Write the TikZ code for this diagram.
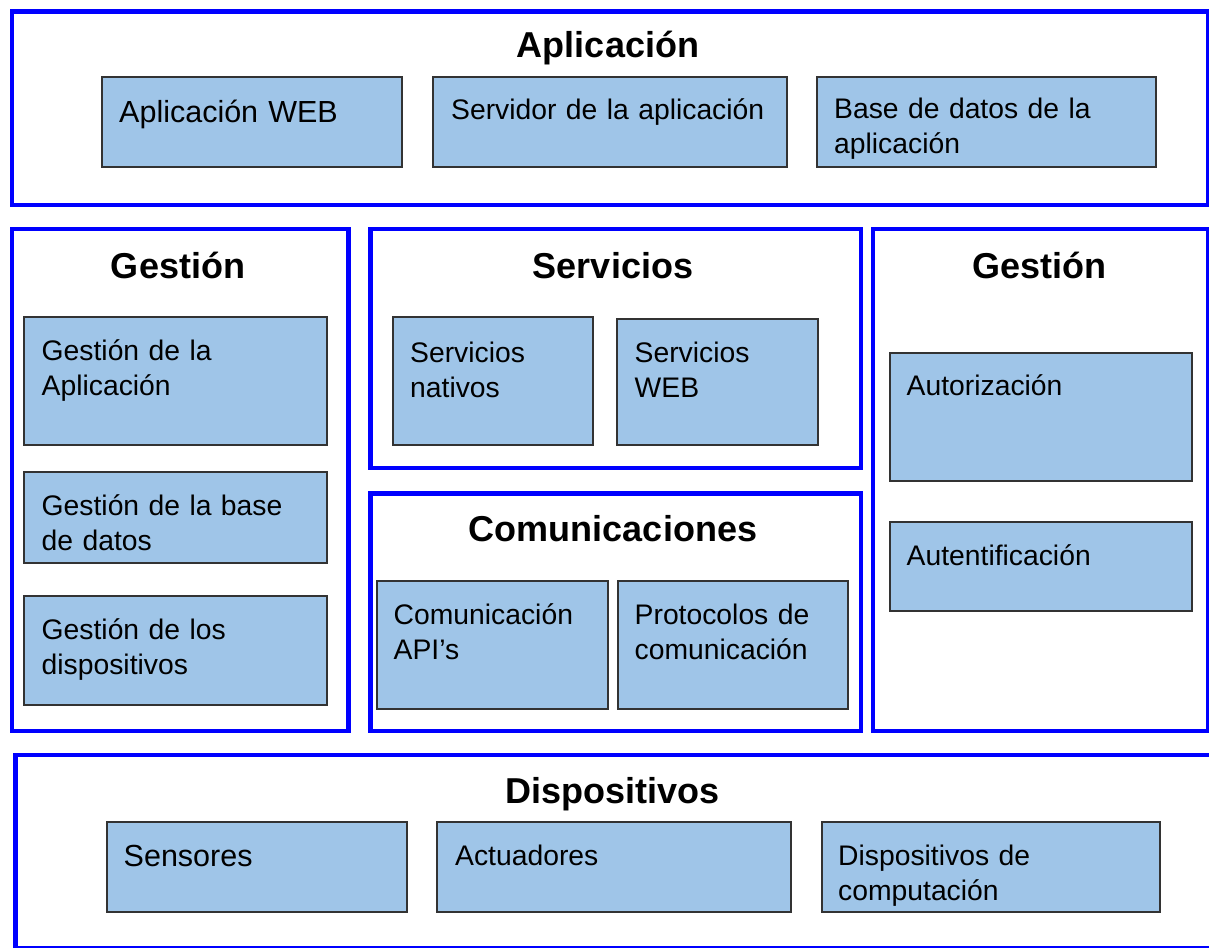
\documentclass[tikz,border=0pt]{standalone}
\usepackage{fontspec}
\setmainfont{Liberation Sans}
\definecolor{frameblue}{HTML}{0000FF}
\definecolor{cellblue}{HTML}{9FC5E8}

\begin{document}
\begin{tikzpicture}[x=1pt,y=-1pt]
		\tikzstyle{layer} = [rectangle,draw=frameblue,line width=4.5pt,anchor=north west,inner sep=0pt]
		\tikzstyle{cell}  = [rectangle,draw=black!80,fill=cellblue,line width=2pt,anchor=north west,inner sep=0pt]
		\tikzstyle{title} = [anchor=base,inner sep=0pt,font=\fontsize{36}{42}\selectfont\bfseries]
		\tikzstyle{txt}   = [anchor=base west,inner sep=0pt,text width=330pt,align=left,font=\fontsize{28.3}{35}\selectfont]
		\tikzstyle{bigtxt}= [txt,font=\fontsize{30.5}{35}\selectfont]
		
		\useasboundingbox (0,0) rectangle (1209,947);
		
		\node[layer,minimum width=1196pt,minimum height=193pt]   (app)   at (9.5,9.5)   {};
		\node[layer,minimum width=336.5pt,minimum height=502pt]  (gestL) at (9.5,226.5) {};
		\node[layer,minimum width=490.5pt,minimum height=239pt]  (serv)  at (368,226.5) {};
		\node[layer,minimum width=490.5pt,minimum height=237.5pt](comm)  at (368,491)   {};
		\node[layer,minimum width=335.5pt,minimum height=502pt]  (gestR) at (870.5,226.5){};
		\node[layer,minimum width=1210pt,minimum height=193pt]   (disp)  at (13,752.5)  {};
		
		\node[title] (appT)   at (608,58)     {Aplicación};
		\node[title] (gestLT) at (178,278)    {Gestión};
		\node[title] (servT)  at (613,278)    {Servicios};
		\node[title] (commT)  at (613,541.5)  {Comunicaciones};
		\node[title] (gestRT) at (1039.5,278) {Gestión};
		\node[title] (dispT)  at (612.5,803.5){Dispositivos};
		
		\node[cell,minimum width=300pt,minimum height=89.5pt]   (web)   at (101,76)     {};
		\node[cell,minimum width=354pt,minimum height=89.5pt]   (srv)   at (432,76)     {};
		\node[cell,minimum width=338.5pt,minimum height=89.5pt] (bd)    at (816,76)     {};
		\node[cell,minimum width=302.5pt,minimum height=128pt]  (gapp)  at (23,316)     {};
		\node[cell,minimum width=302.5pt,minimum height=91.5pt] (gbd)   at (23,470.5)   {};
		\node[cell,minimum width=302.5pt,minimum height=109.5pt](gdisp) at (23,594.5)   {};
		\node[cell,minimum width=200.5pt,minimum height=128pt]  (snat)  at (391.5,316)  {};
		\node[cell,minimum width=200.5pt,minimum height=126.5pt](sweb)  at (616,317.5)  {};
		\node[cell,minimum width=231pt,minimum height=128pt]    (capi)  at (375.5,580)  {};
		\node[cell,minimum width=230pt,minimum height=128pt]    (prot)  at (616.5,580)  {};
		\node[cell,minimum width=302pt,minimum height=128pt]    (autz)  at (888.5,352)  {};
		\node[cell,minimum width=302pt,minimum height=89.5pt]   (autn)  at (888.5,520.5){};
		\node[cell,minimum width=300.5pt,minimum height=90pt]   (sens)  at (105.5,820.5){};
		\node[cell,minimum width=354pt,minimum height=90pt]     (act)   at (436,820.5)  {};
		\node[cell,minimum width=338.5pt,minimum height=90pt]   (dcomp) at (820.5,820.5){};
		
		\node[bigtxt] (webT)   at (119,122)    {Aplicación WEB};
		\node[txt]    (srvT)   at (451,120)    {Servidor de la aplicación};
		\node[txt]    (bdT)    at (834,119)    {Base de datos de la\\aplicación};
		\node[txt]    (gappT)  at (41.5,360)   {Gestión de la\\Aplicación};
		\node[txt]    (gbdT)   at (41.5,515)   {Gestión de la base\\de datos};
		\node[txt]    (gdispT) at (41.5,639)   {Gestión de los\\dispositivos};
		\node[txt]    (snatT)  at (410,362)    {Servicios\\nativos};
		\node[txt]    (swebT)  at (634.5,362)  {Servicios\\WEB};
		\node[txt]    (capiT)  at (393.5,624.5){Comunicación\\API’s};
		\node[txt]    (protT)  at (634.5,624.5){Protocolos de\\comunicación};
		\node[txt]    (autzT)  at (906.5,395.5){Autorización};
		\node[txt]    (autnT)  at (906.5,565)  {Autentificación};
		\node[bigtxt] (sensT)  at (123.5,866.5){Sensores};
		\node[txt]    (actT)   at (455,865)    {Actuadores};
		\node[txt]    (dcompT) at (838,865)    {Dispositivos de\\computación};
	\end{tikzpicture}
\end{document}
